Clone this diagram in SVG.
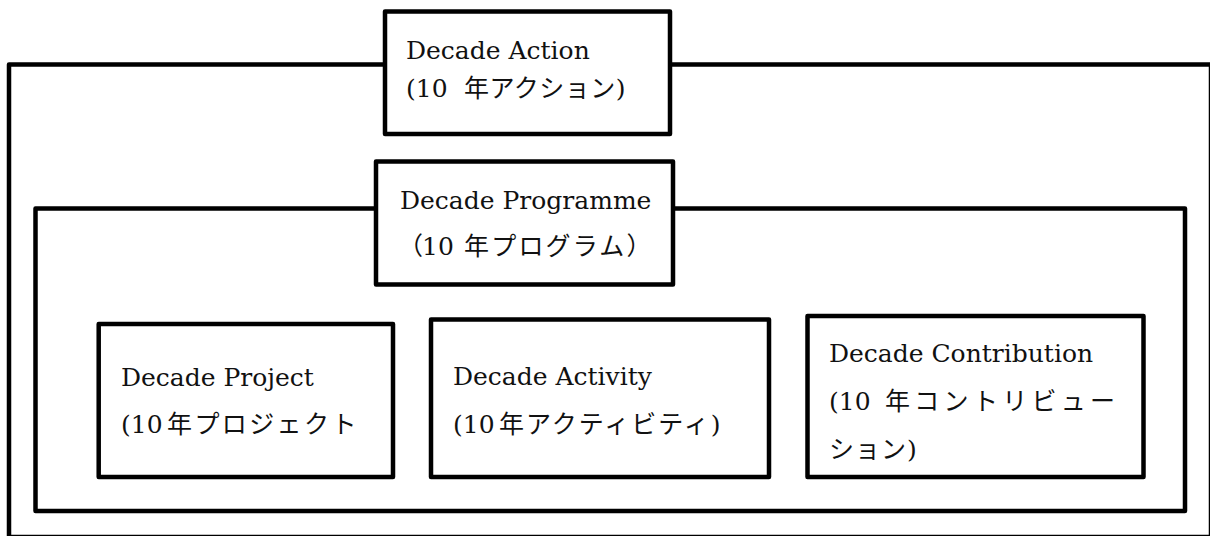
<svg xmlns="http://www.w3.org/2000/svg" width="1210" height="536" viewBox="0 0 1210 536">
  <style>
    .box { fill: #ffffff; stroke: #000000; stroke-width: 4.5; stroke-linejoin: round; }
    .t { font-family: "DejaVu Serif", "Noto Sans CJK JP", serif; font-size: 25px; fill: #111111; }
    .j { font-family: "Noto Sans CJK JP", sans-serif; }
  </style>
  <rect x="0" y="0" width="1210" height="536" fill="#ffffff"/>
  <g id="decade-action">
    <rect class="box" x="9" y="64.5" width="1202" height="472.5"/>
    <rect class="box" x="385" y="11.5" width="285" height="122.5"/>
    <text class="t" x="406" y="59.3">Decade Action</text>
    <text class="t" x="406" y="96.7">(10<tspan class="j" x="464" letter-spacing="0.5">年アクション</tspan>)</text>
  </g>
  <g id="decade-programme">
    <rect class="box" x="35.5" y="208.5" width="1149.5" height="302.5"/>
    <rect class="box" x="376" y="161.5" width="297" height="123"/>
    <text class="t" x="400" y="209.3">Decade Programme</text>
    <text class="t" y="255"><tspan class="j" x="398">（</tspan><tspan x="422">10</tspan><tspan class="j" x="464" letter-spacing="2.2">年プログラム）</tspan></text>
  </g>
  <g id="decade-project">
    <rect class="box" x="98.7" y="324" width="294.3" height="153"/>
    <text class="t" x="121" y="386">Decade Project</text>
    <text class="t" x="121" y="433.3">(10<tspan class="j" x="167" letter-spacing="2.4">年プロジェクト</tspan></text>
  </g>
  <g id="decade-activity">
    <rect class="box" x="431" y="319.5" width="338" height="157.5"/>
    <text class="t" x="453" y="385">Decade Activity</text>
    <text class="t" x="453" y="433.3">(10<tspan class="j" x="499" letter-spacing="2">年アクティビティ</tspan>)</text>
  </g>
  <g id="decade-contribution">
    <rect class="box" x="807.5" y="316" width="336" height="161"/>
    <text class="t" x="829" y="362">Decade Contribution</text>
    <text class="t" x="829" y="410">(10<tspan class="j" x="885" letter-spacing="4.3">年コントリビュー</tspan></text>
    <text class="t" x="829" y="458"><tspan class="j" letter-spacing="1">ション</tspan>)</text>
  </g>
  <g id="connectors"/>
</svg>
